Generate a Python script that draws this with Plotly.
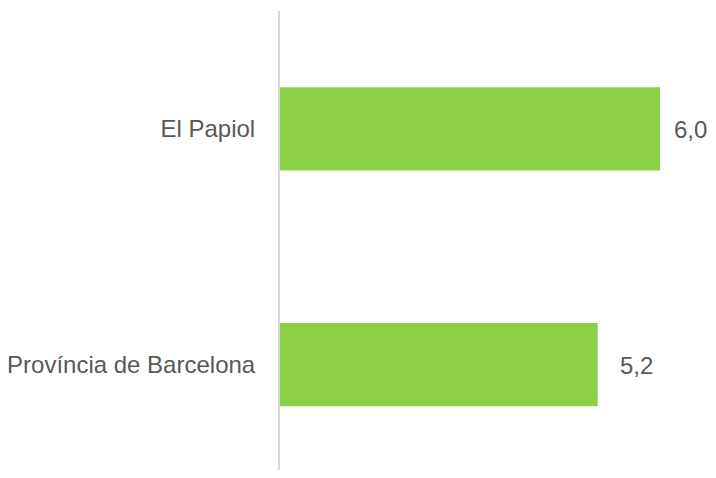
import plotly.graph_objects as go

categories = ["El Papiol", "Província de Barcelona"]
values = [6.0, 5.2]
labels = ["6,0", "5,2"]

fig = go.Figure()
fig.add_trace(go.Bar(
    y=categories, x=values, orientation="h",
    marker=dict(color="#8BD046", line=dict(width=0)),
    hoverinfo="skip", showlegend=False,
))
for i, (c, v, t) in enumerate(zip(categories, values, labels)):
    # the first label sits near the right edge; nudge it in so it is not clipped
    fig.add_annotation(x=v, y=c, text=t, showarrow=False, xanchor="left",
                       xshift=12 if i == 0 else 20, yshift=-1,
                       font=dict(family="Liberation Sans, Arial", size=24, color="#595959"))

# page body adds an 8px offset; compensate in the figure size/margins
fig.update_layout(
    width=708, height=462,
    margin=dict(l=272, r=0, t=3, b=0),
    paper_bgcolor="white", plot_bgcolor="white",
    bargap=0.646,
    font=dict(family="Liberation Sans, Arial", size=24, color="#595959"),
    xaxis=dict(range=[1.12, 1.12 + 436 / 77.87], showgrid=False, zeroline=False,
               showticklabels=False, showline=False, fixedrange=True),
    yaxis=dict(type="category", range=[1.447, -0.5], showgrid=False, zeroline=False,
               showline=True, linecolor="#D9D9D9", linewidth=2,
               ticks="", ticklabelstandoff=18, fixedrange=True),
)
fig.write_html("out.html")
